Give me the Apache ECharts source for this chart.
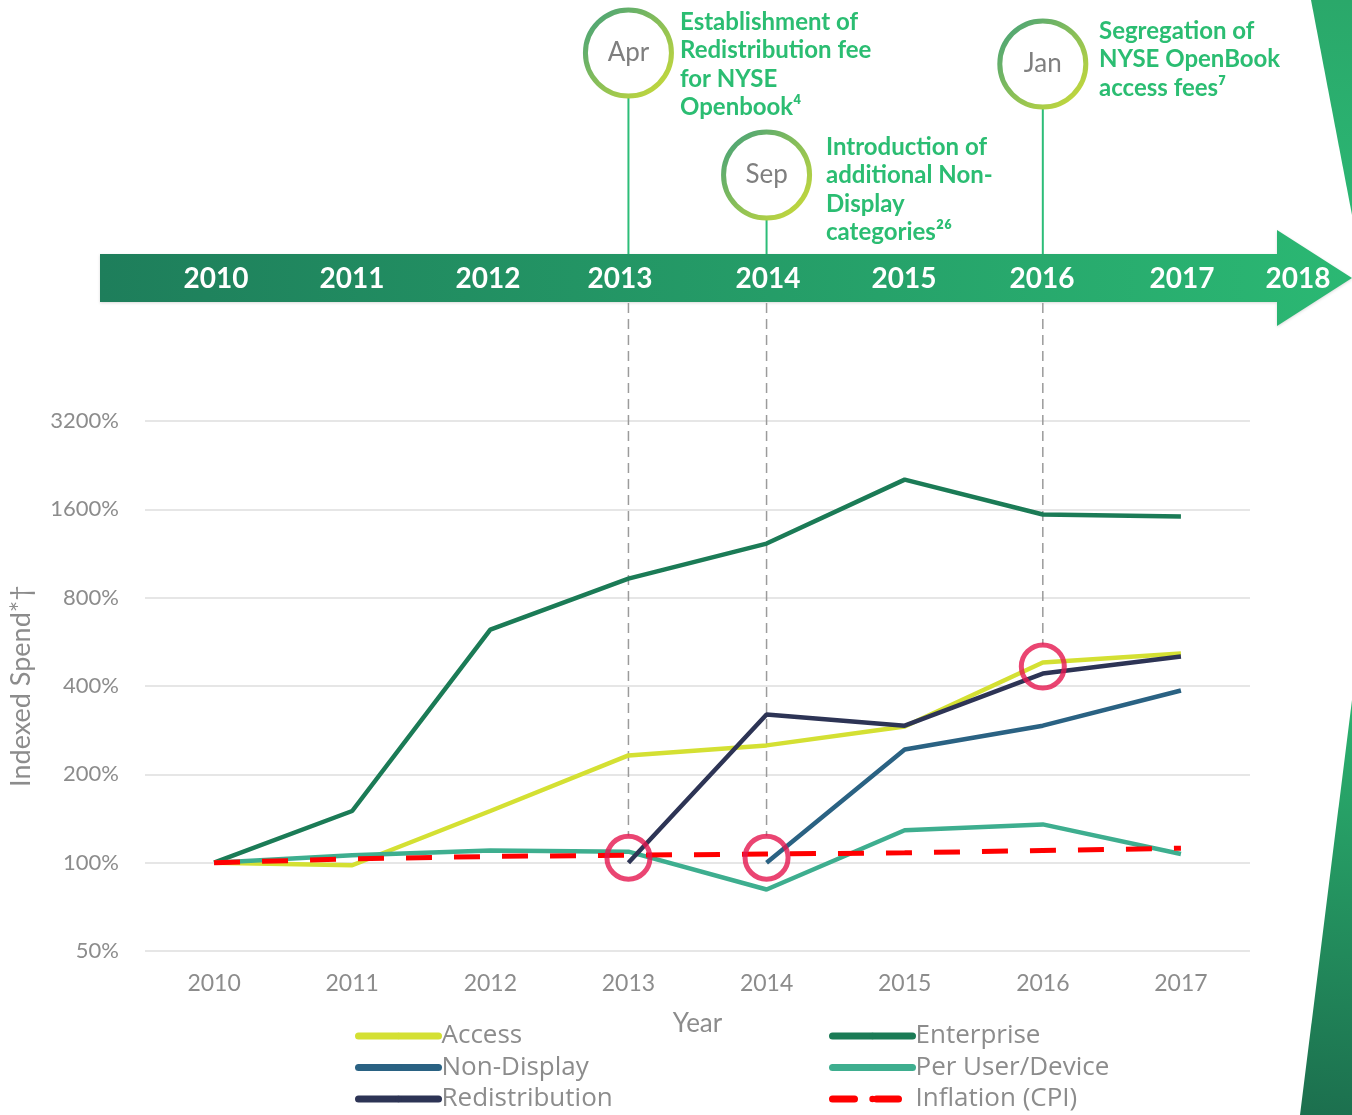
<!DOCTYPE html>
<html>
<head>
<meta charset="utf-8">
<script src="https://cdn.jsdelivr.net/npm/echarts@6/dist/echarts.min.js"></script>
<style>
  html, body { margin: 0; padding: 0; background: #fff; }
  #main { width: 1352px; height: 1115px; }
</style>
</head>
<body>
<div id="main"></div>
<script>
// indexed spend, % of 2010 level
var years = ['2010', '2011', '2012', '2013', '2014', '2015', '2016', '2017'];
var access = [100, 98, 150, 232, 251, 291, 481, 516];
var enterprise = [100, 150, 623, 929, 1223, 2020, 1536, 1513];
var nonDisplay = [null, null, null, null, 100, 243, 293, 386];
var perUser = [100, 106, 110, 109, 81, 129, 135, 107];
var redistribution = [null, null, null, 100, 320, 293, 441, 504];
var inflation = [100, 103, 105, 106, 107, 108, 110, 112];

// circled points
var markYears = ['2013', '2014', '2016'];
var markValues = [104, 104, 466];

// timeline
var timelineYears = ['2010', '2011', '2012', '2013', '2014', '2015', '2016', '2017', '2018'];
var milestoneYears = ['2013', '2014', '2016'];
var milestoneMonths = ['Apr', 'Sep', 'Jan'];
var milestoneTexts = [
  'Establishment of\nRedistribution fee\nfor NYSE\nOpenbook\u2074',
  'Introduction of\nadditional Non-\nDisplay\ncategories\u00b2\u2076',
  'Segregation of\nNYSE OpenBook\naccess fees\u2077'
];

// legend layout: two columns of three
var legendNames = ['Access', 'Non-Display', 'Redistribution', 'Enterprise', 'Per User/Device', 'Inflation (CPI)'];

function ratio(arr) {
  return arr.map(function (v) { return v == null ? null : v / 100; });
}

var grey = '#8c8c8c';
var chart = echarts.init(document.getElementById('main'));

function lineSeries(name, data, color, extra) {
  var s = {
    name: name,
    type: 'line',
    data: ratio(data),
    symbol: 'none',
    connectNulls: false,
    lineStyle: { color: color, width: 4.5 },
    itemStyle: { color: color }
  };
  if (extra) s.lineStyle = Object.assign(s.lineStyle, extra);
  return s;
}

var legends = legendNames.map(function (n, i) {
  var ls = { width: 7, cap: 'round' };
  if (n === 'Inflation (CPI)') ls.type = [22, 22];
  return {
    data: [n],
    left: i < 3 ? 355 : 829,
    top: 1023 + (i % 3) * 31.5,
    padding: 0,
    itemWidth: 80, itemHeight: 8,
    lineStyle: ls,
    textStyle: { color: grey, fontSize: 26, fontFamily: 'Open Sans', padding: [0, 0, 0, -2] }
  };
});

chart.setOption({
  animation: false,
  textStyle: { fontFamily: 'Lato' },
  grid: { left: 145, right: 102, top: 421, bottom: 164 },
  legend: legends,
  xAxis: {
    type: 'category',
    data: years,
    boundaryGap: true,
    axisLine: { show: false },
    axisTick: { show: false },
    axisLabel: { color: grey, fontSize: 23, margin: 21 },
    name: 'Year',
    nameLocation: 'middle',
    nameGap: 60,
    nameTextStyle: { color: grey, fontSize: 26 }
  },
  yAxis: {
    type: 'log',
    logBase: 2,
    min: 0.5,
    max: 32,
    interval: 1,
    axisLine: { show: false },
    axisTick: { show: false },
    splitLine: { lineStyle: { color: '#e6e6e6', width: 2 } },
    axisLabel: {
      color: grey, fontSize: 22, margin: 26,
      formatter: function (v) { return Math.round(v * 100) + '%'; }
    },
    name: 'Indexed Spend*\u2020',
    nameLocation: 'middle',
    nameGap: 110,
    nameTextStyle: { color: grey, fontSize: 27 }
  },
  series: [
    lineSeries('Enterprise', enterprise, '#1b7b56'),
    lineSeries('Access', access, '#d4e033'),
    lineSeries('Non-Display', nonDisplay, '#2a6283'),
    lineSeries('Per User/Device', perUser, '#3eae8f'),
    lineSeries('Redistribution', redistribution, '#2d3455'),
    lineSeries('Inflation (CPI)', inflation, '#ff0000', { type: [26, 22], width: 5 }),
    {
      name: 'marks',
      type: 'scatter',
      data: markYears.map(function (y, i) { return [y, markValues[i] / 100]; }),
      symbol: 'circle',
      symbolSize: 43,
      z: 5,
      itemStyle: { color: 'rgba(0,0,0,0)', borderColor: '#e5174f', borderWidth: 5 }
    }
  ]
});

// --- decoration drawn on top: timeline arrow, milestones, guide lines ---
var graphics = [];

graphics.push({
  type: 'polygon',
  shape: { points: [[1311, 0], [1352, 0], [1352, 215]] },
  style: { fill: new echarts.graphic.LinearGradient(0, 0, 0, 1, [
    { offset: 0, color: '#2aa86a' }, { offset: 1, color: '#2bb673' }]) }
});
graphics.push({
  type: 'polygon',
  shape: { points: [[1300, 1115], [1352, 1115], [1352, 700]] },
  style: { fill: new echarts.graphic.LinearGradient(0, 1, 1, 0, [
    { offset: 0, color: '#1c6f4e' }, { offset: 1, color: '#2bb26f' }]) }
});

graphics.push({
  type: 'polygon',
  shape: { points: [[100, 254], [1277, 254], [1277, 230], [1352, 278], [1277, 326], [1277, 302], [100, 302]] },
  style: {
    fill: new echarts.graphic.LinearGradient(0, 0, 1, 0, [
      { offset: 0, color: '#1e7e5b' }, { offset: 1, color: '#2bb873' }]),
    shadowBlur: 3, shadowColor: 'rgba(0,0,0,0.15)', shadowOffsetY: 1
  }
});
var tlX = [216, 352, 488, 620, 768, 904, 1042, 1182, 1298];
timelineYears.forEach(function (y, i) {
  graphics.push({
    type: 'text', x: tlX[i], y: 279,
    style: { text: y, font: 'bold 28px Lato', fill: '#fff', align: 'center', verticalAlign: 'middle' }
  });
});

var ringCY = [53, 175, 64];
var textPos = [[680, 8], [826, 133], [1099, 17]];
milestoneYears.forEach(function (y, i) {
  var px = chart.convertToPixel({ seriesIndex: 6 }, [y, markValues[i] / 100]);
  var cx = px[0];
  // dashed guide from arrow to circled point
  graphics.push({
    type: 'line',
    shape: { x1: cx, y1: 303, x2: cx, y2: px[1] - 22 },
    style: { stroke: '#9b9b9b', lineWidth: 1.5, lineDash: [10, 6] }
  });
  // green stem from ring to arrow
  graphics.push({
    type: 'line',
    shape: { x1: cx, y1: ringCY[i] + 45, x2: cx, y2: 254 },
    style: { stroke: '#2dbd78', lineWidth: 2 }
  });
  graphics.push({
    type: 'circle',
    shape: { cx: cx, cy: ringCY[i], r: 43 },
    style: {
      fill: '#fff',
      lineWidth: 5,
      stroke: new echarts.graphic.LinearGradient(0, 0, 1, 1, [
        { offset: 0, color: '#3f9f7c' }, { offset: 1, color: '#d2de35' }])
    }
  });
  graphics.push({
    type: 'text', x: cx, y: ringCY[i],
    style: { text: milestoneMonths[i], font: '26px Lato', fill: '#7f7f7f', align: 'center', verticalAlign: 'middle' }
  });
  graphics.push({
    type: 'text', x: textPos[i][0], y: textPos[i][1],
    style: { text: milestoneTexts[i], font: 'bold 24px Lato', fill: '#2bbd72', lineHeight: 28.5 }
  });
});

chart.setOption({ graphic: graphics });
</script>
</body>
</html>
